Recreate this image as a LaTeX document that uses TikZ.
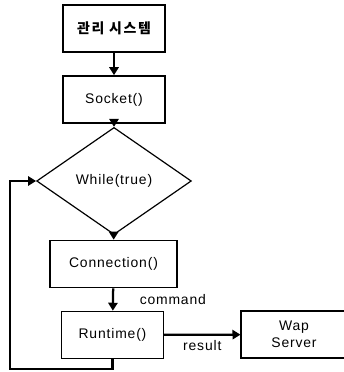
\documentclass[tikz,border=0pt]{standalone}
\usepackage{fontspec}
\setmainfont{Liberation Sans}[LetterSpace=6]
\newfontfamily\krfont{Noto Sans CJK KR}[LetterSpace=12]
\usetikzlibrary{arrows.meta, positioning, shapes}

\begin{document}
\begin{tikzpicture}[x=0.0265cm, y=-0.0265cm,
  block/.style={draw, line width=1.1pt, minimum width=2.7cm, minimum height=1.25cm, font=\fontsize{10.5}{12}\selectfont},
  flow/.style={line width=1.7pt, -{Triangle[length=6pt,width=7pt]}},
  lbl/.style={font=\fontsize{10.5}{12}\selectfont}]
\useasboundingbox (0,0) rectangle (343,372);

% Main column
\node[block] (sys) at (114,28.5) {\krfont\bfseries 관리 시스템};
\node[block] (sock) at (114,99.5) {Socket()};
\node[draw, diamond, line width=0.9pt, minimum width=4.1cm, minimum height=1.85cm, lbl] (cond) at (114,181) {While(true)};
\node[block, minimum width=3.36cm] (conn) at (113.5,264) {Connection()};
\node[block] (run) at (112.5,335) {Runtime()};

% Server on the right
\node[block, minimum width=2.8cm, align=center, font=\fontsize{10.5}{12.5}\selectfont] (wap) at (294,334.5) {Wap\\Server};

% Arrows
\draw[flow] (sys) -- (sock);
\draw[flow] (sock) -- (cond);
\draw[flow] (cond) -- (conn);
\draw[flow] (conn) -- node[lbl, anchor=west, xshift=16pt] {command} (run);
\draw[flow] (run) -- node[lbl, below] {result} (wap);

% Loop back to the condition
\coordinate (back) at (10,369);
\draw[flow] (run.south) |- (back) |- (cond.west);
\end{tikzpicture}
\end{document}
